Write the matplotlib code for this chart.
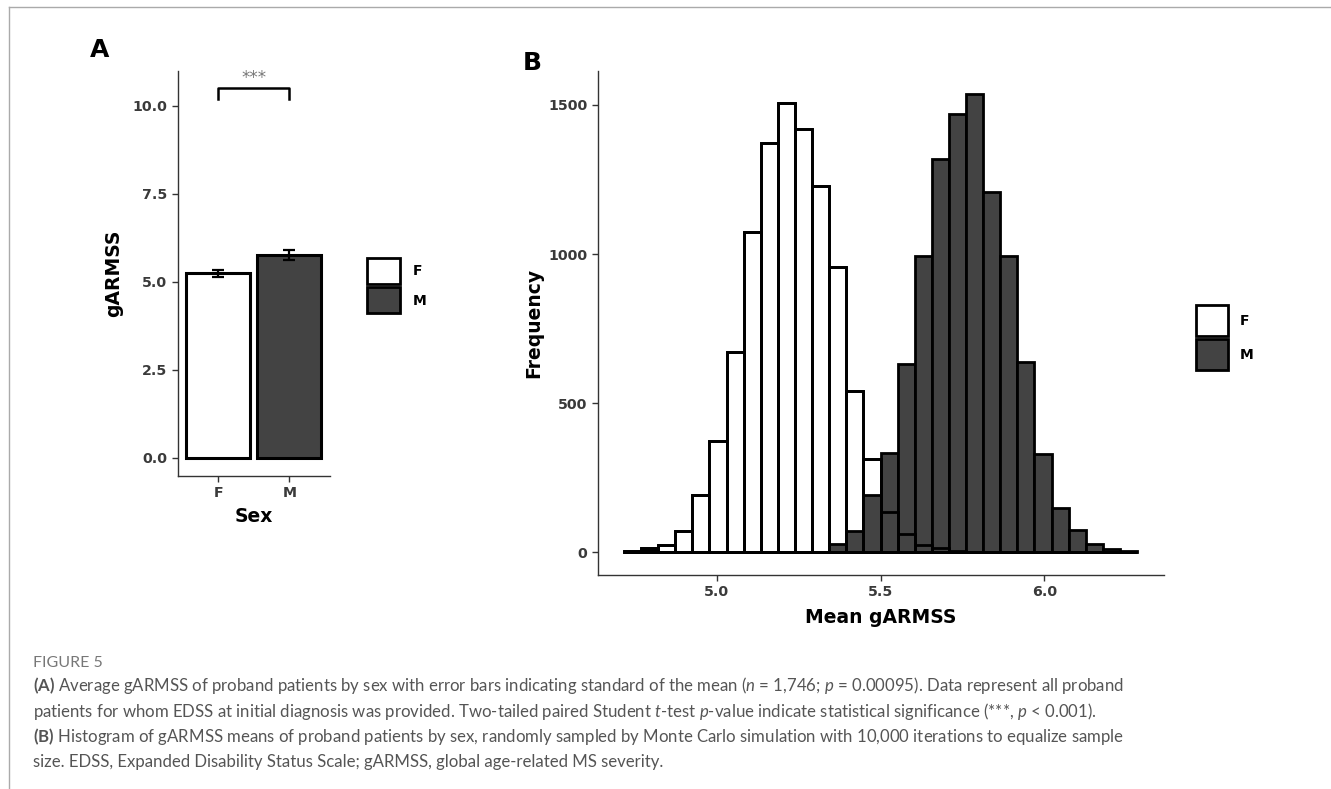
import matplotlib.pyplot as plt
from matplotlib.patches import Patch
from matplotlib.lines import Line2D
import numpy as np

# panel A: mean gARMSS by sex
sexes = ['F', 'M']
mean_garmss = [5.24, 5.76]
sem_garmss = [0.09, 0.15]
sig_label = '***'
sig_y = 10.5

# panel B: histogram counts (30 bins)
bin_start = 4.717
bin_width = 0.0522
f_counts = [3, 15, 23, 71, 191, 372, 671, 1073, 1371, 1508, 1418, 1228, 955, 542, 311,
            135, 62, 23, 12, 4, 0, 0, 0, 0, 0, 0, 0, 0, 0, 0]
m_counts = [0, 8, 0, 0, 0, 0, 0, 0, 0, 0, 0, 0, 26, 72, 191,
            333, 632, 992, 1318, 1469, 1538, 1209, 994, 637, 328, 148, 74, 27, 9, 2]
b_xticks = [5.0, 5.5, 6.0]
b_yticks = [0, 500, 1000, 1500]
a_yticks = [0.0, 2.5, 5.0, 7.5, 10.0]

caption_lines = [
    r"$\mathbf{(A)}$ Average gARMSS of proband patients by sex with error bars indicating standard of the mean ($n$ = 1,746; $p$ = 0.00095). Data represent all proband",
    r"patients for whom EDSS at initial diagnosis was provided. Two-tailed paired Student $t$-test $p$-value indicate statistical significance (***, $p$ < 0.001).",
    r"$\mathbf{(B)}$ Histogram of gARMSS means of proband patients by sex, randomly sampled by Monte Carlo simulation with 10,000 iterations to equalize sample",
    r"size. EDSS, Expanded Disability Status Scale; gARMSS, global age-related MS severity.",
]

W, H = 1331, 789
dark = '#434343'
plt.rcParams['font.family'] = 'DejaVu Sans'
plt.rcParams['mathtext.fontset'] = 'custom'
plt.rcParams['mathtext.it'] = 'Lato:italic'
plt.rcParams['mathtext.bf'] = 'Lato:bold'
plt.rcParams['mathtext.rm'] = 'Lato'

fig = plt.figure(figsize=(W / 100, H / 100), dpi=100)


def style(ax):
    for s in ['top', 'right']:
        ax.spines[s].set_visible(False)
    for s in ['left', 'bottom']:
        ax.spines[s].set_color('#333333')
        ax.spines[s].set_linewidth(1.0)
    ax.tick_params(colors='#333333', length=4, width=1, labelsize=10.2, labelcolor='#3a3a3a')
    for lab in ax.get_xticklabels() + ax.get_yticklabels():
        lab.set_fontweight('bold')


# ---- panel A
axA = fig.add_axes([177.7 / W, 1 - 476 / H, 152.3 / W, 405.3 / H])
xa = np.arange(1, len(sexes) + 1)
axA.bar(xa, mean_garmss, width=0.9, color=['white', dark], edgecolor='black', linewidth=2.2)
axA.errorbar(xa, mean_garmss, yerr=sem_garmss, fmt='none', ecolor='black', elinewidth=1.6,
             capsize=4.5, capthick=1.6)
axA.plot([1, 1, 2, 2], [sig_y - 0.3, sig_y, sig_y, sig_y - 0.3], color='black', lw=1.8)
axA.text(1.5, sig_y + 0.15, sig_label, ha='center', va='baseline', fontsize=12, color='#777777')
axA.set_xlim(0.428, 2.573)
axA.set_ylim(-0.52, 11.0)
axA.set_xticks(xa)
axA.set_xticklabels(sexes)
axA.set_yticks(a_yticks)
axA.set_yticklabels([f'{v:.1f}' for v in a_yticks])
axA.set_xlabel('Sex', fontsize=13.5, fontweight='bold', labelpad=5)
axA.set_ylabel('gARMSS', fontsize=13.5, fontweight='bold', labelpad=7)
style(axA)

# ---- panel B
axB = fig.add_axes([598 / W, 1 - 575 / H, 566 / W, 504.3 / H])
edges = bin_start + bin_width * np.arange(len(f_counts))
axB.bar(edges, f_counts, width=bin_width, align='edge', color='white', edgecolor='black', linewidth=2.0)
axB.bar(edges, m_counts, width=bin_width, align='edge', color=dark, edgecolor='black', linewidth=2.0)
axB.bar(edges, f_counts, width=bin_width, align='edge', fill=False, edgecolor='black', linewidth=2.0)
axB.set_xlim(4.638, 6.365)
axB.set_ylim(-77, 1615)
axB.set_xticks(b_xticks)
axB.set_xticklabels([f'{v:.1f}' for v in b_xticks])
axB.set_yticks(b_yticks)
axB.set_xlabel('Mean gARMSS', fontsize=13.5, fontweight='bold', labelpad=6)
axB.set_ylabel('Frequency', fontsize=13.5, fontweight='bold', labelpad=4)
style(axB)

# ---- legends
handles = [Patch(facecolor='white', edgecolor='black', linewidth=2),
           Patch(facecolor=dark, edgecolor='black', linewidth=2)]
fig.legend(handles, sexes, loc='upper left', bbox_to_anchor=(366.7 / W, 1 - 258 / H),
           frameon=False, borderpad=0, borderaxespad=0, handlelength=2.4, handleheight=2.5,
           labelspacing=0.25, handletextpad=0.9, prop={'weight': 'bold', 'size': 10})
fig.legend(handles, sexes, loc='upper left', bbox_to_anchor=(1196 / W, 1 - 305 / H),
           frameon=False, borderpad=0, borderaxespad=0, handlelength=2.3, handleheight=3.05,
           labelspacing=0.25, handletextpad=0.85, prop={'weight': 'bold', 'size': 10})

# ---- panel letters
fig.text(90 / W, 1 - 57 / H, 'A', fontsize=18, fontweight='bold', va='baseline')
fig.text(523 / W, 1 - 70 / H, 'B', fontsize=18, fontweight='bold', va='baseline')

# ---- caption
fig.text(33 / W, 1 - 667 / H, 'FIGURE 5', family='Lato', fontsize=11.5, color='#777777', va='baseline')
cap_texts = []
for i, line in enumerate(caption_lines):
    t = fig.text(33 / W, 1 - (691 + 25.5 * i) / H, line, family='Lato',
                 fontsize=12, color='#555555', va='baseline')
    cap_texts.append(t)
fig.canvas.draw()
w1 = cap_texts[0].get_window_extent().width
for t in cap_texts:
    t.set_fontsize(12 * 1090 / w1)

# ---- frame lines
fig.add_artist(Line2D([9 / W, 1], [1 - 7 / H, 1 - 7 / H], color='#aaaaaa', lw=1))
fig.add_artist(Line2D([9 / W, 9 / W], [0, 1 - 7 / H], color='#aaaaaa', lw=1))

fig.savefig('out.png', dpi=100)
